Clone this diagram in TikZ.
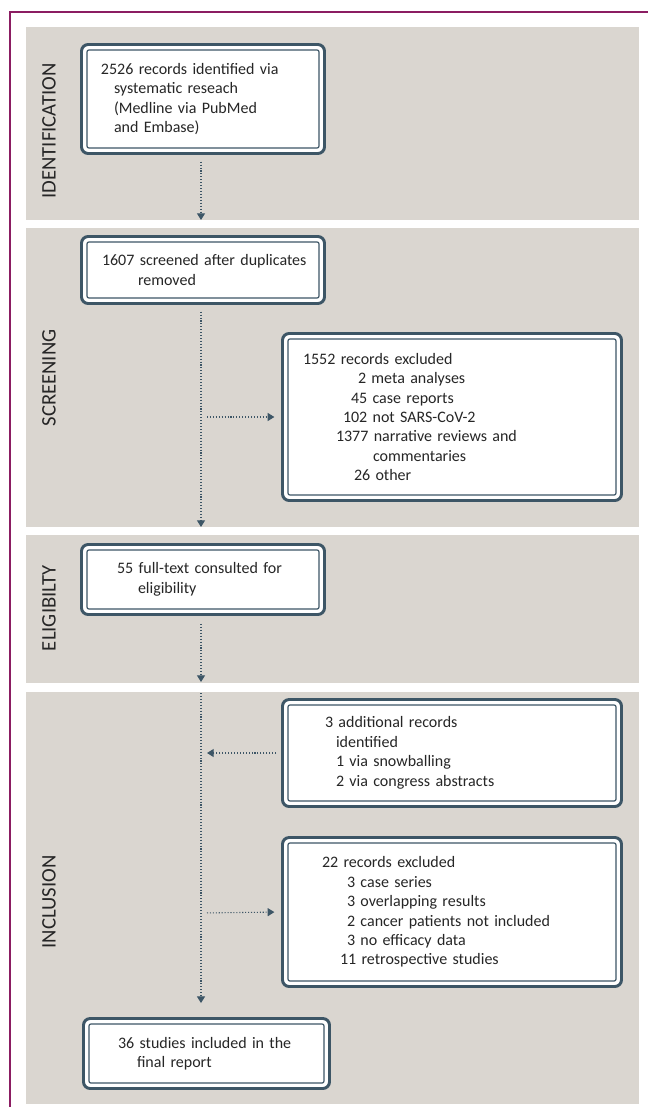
\documentclass[tikz,border=0pt]{standalone}
\usepackage{fontspec}
\setmainfont{Carlito}
\usetikzlibrary{arrows.meta}
\definecolor{slate}{RGB}{61,86,102}
\definecolor{band}{RGB}{218,214,208}
\definecolor{rim}{RGB}{139,29,98}
\definecolor{ink}{RGB}{38,38,38}
\newlength\pxu
\setlength\pxu{0.75pt}
\newcommand\indpx[1]{\hspace*{#1\pxu}}

\begin{document}
\begin{tikzpicture}[x=0.75pt, y=-0.75pt,
    >={Triangle[width=6pt,length=5pt]},
    stagelabel/.style={rotate=90, text=ink, font=\fontsize{15.5}{18}\selectfont},
    box/.style={draw=slate, fill=white, line width=2.2pt, rounded corners=5pt, inner xsep=0pt, inner ysep=2pt,
        align=left, text=ink, font=\fontsize{12}{14.6}\selectfont,
        path picture={\draw[slate, line width=0.9pt, rounded corners=1.5pt]
            ([shift={(4.1pt,-4.1pt)}]path picture bounding box.north west) rectangle
            ([shift={(-4.1pt,4.1pt)}]path picture bounding box.south east);}},
    flow/.style={->, draw=slate, line width=0.8pt, dash pattern=on 0.8pt off 1.4pt}]
            \useasboundingbox (0,0) rectangle (648,1107);
            \draw[rim, line width=2pt] (648,12) -- (10,12) -- (10,1107);

            \fill[band] (26,27) rectangle (639,220);
            \fill[band] (26,228) rectangle (639,527);
            \fill[band] (26,535) rectangle (639,683);
            \fill[band] (26,692) rectangle (639,1104);

            \node[stagelabel] (lident) at (49,131) {IDENTIFICATION};
            \node[stagelabel] (lscreen) at (49,378) {SCREENING};
            \node[stagelabel] (lelig) at (49,608) {ELIGIBILTY};
            \node[stagelabel] (lincl) at (49,902) {INCLUSION};

            \node[box, text width=182.25pt, minimum height=81.75pt] (ident) at (203,99) {\indpx{19.5}2526 records identified via\\\indpx{32.5}systematic reseach\\\indpx{32.5}(Medline via PubMed\\\indpx{32.5}and Embase)};
            \node[box, text width=182.25pt, minimum height=50.25pt] (screen) at (203,270) {\indpx{20.5}1607 screened after duplicates\\\indpx{56.5}removed};
            \node[box, text width=254.25pt, minimum height=125.25pt] (excl) at (452,417) {\indpx{20.5}1552 records excluded\\\indpx{75.5}2 meta analyses\\\indpx{68.5}45 case reports\\\indpx{60.5}102 not SARS-CoV-2\\\indpx{53.5}1377 narrative reviews and\\\indpx{90.5}commentaries\\\indpx{71.5}26 other};
            \node[box, text width=182.25pt, minimum height=52.5pt] (elig) at (203,579.5) {\indpx{35.5}55 full-text consulted for\\\indpx{56.5}eligibility};
            \node[box, text width=254.25pt, minimum height=80.25pt] (extra) at (452,753) {\indpx{42.5}3 additional records\\\indpx{53.5}identified\\\indpx{53.5}1 via snowballing\\\indpx{53.5}2 via congress abstracts};
            \node[box, text width=254.25pt, minimum height=111.75pt] (excl2) at (452,912) {\indpx{39.5}22 records excluded\\\indpx{64.5}3 case series\\\indpx{64.5}3 overlapping results\\\indpx{64.5}2 cancer patients not included\\\indpx{64.5}3 no efficacy data\\\indpx{57.5}11 retrospective studies};
            \node[box, text width=184.5pt, minimum height=52.5pt] (final) at (206.5,1053.5) {\indpx{34.5}36 studies included in the\\\indpx{53.5}final report};

            \coordinate (e1) at (201,220);
            \coordinate (e2) at (201,527);
            \coordinate (e3) at (201,682);
            \coordinate (i0) at (201,693);
            \coordinate (j1) at (201,417);
            \coordinate (j2) at (201,753);
            \coordinate (j3) at (201,913);

            \draw[flow, shorten <=5pt] (ident.south -| e1) -- (e1);
            \draw[flow, shorten <=5pt] (screen.south -| e2) -- (e2);
            \draw[flow, shorten <=4.5pt, shorten >=5pt] (j1) -- (excl.west);
            \draw[flow, shorten <=6pt] (elig.south -| e3) -- (e3);
            \draw[flow, shorten >=10.5pt] (i0) -- (final.north -| i0);
            \draw[flow, shorten <=3.75pt, shorten >=4.5pt] (extra.west) -- (j2);
            \draw[flow, shorten <=4.5pt, shorten >=5pt] (j3) -- (excl2.west);
        \end{tikzpicture}
\end{document}
